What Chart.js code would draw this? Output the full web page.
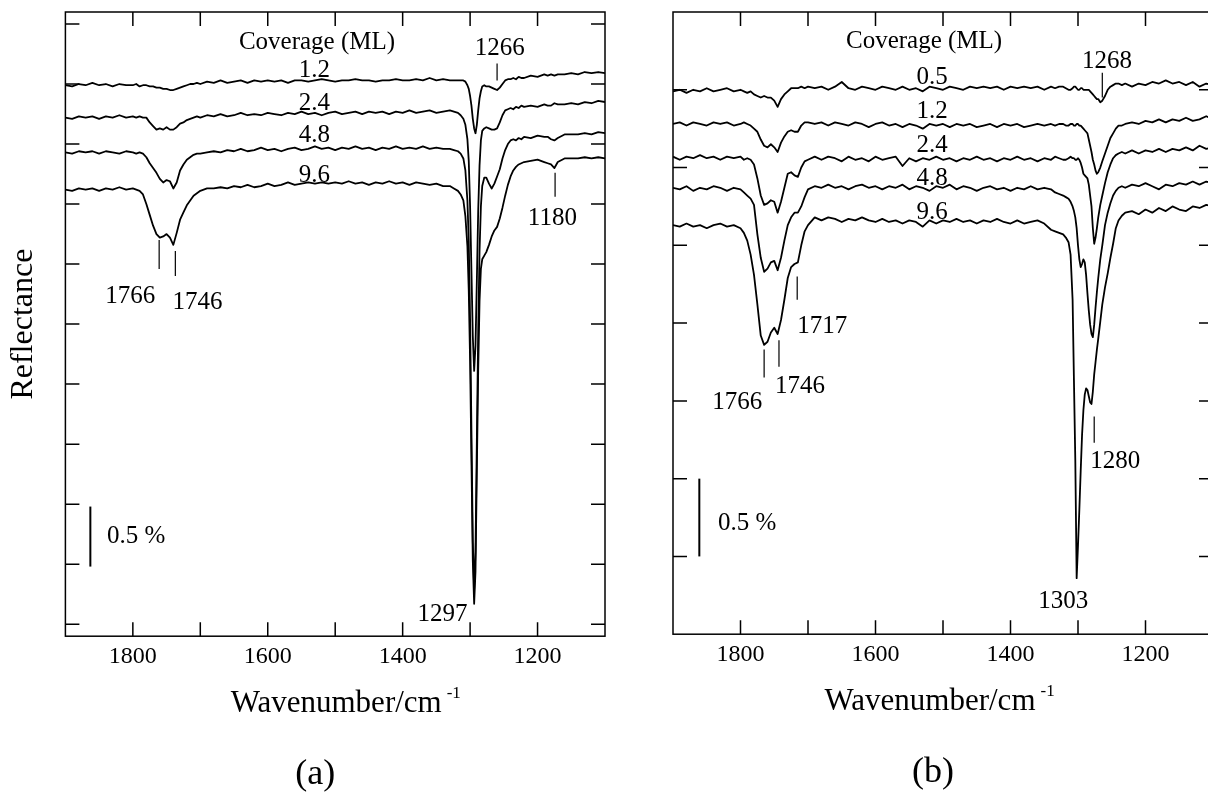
<!DOCTYPE html>
<html>
<head>
<meta charset="utf-8">
<script src="https://cdn.jsdelivr.net/npm/chart.js@4.4.1/dist/chart.umd.min.js"></script>
<style>
  html, body { margin: 0; padding: 0; background: #fff; width: 1208px; height: 793px; overflow: hidden; }
  canvas { position: absolute; top: 0; }
  #panelA { left: 0; }
  #panelB { left: 640px; }
</style>
</head>
<body>
<canvas id="panelA" width="640" height="793"></canvas>
<canvas id="panelB" width="600" height="793"></canvas>
<script>
// wavenumber grids (cm-1), finer around the sharp bands
const wavenumberA = [1900,1890,1880,1870,1860,1850,1840,1830,1820,1810,1800,
  1795,1790,1785,1780,1775,1770,1765,1760,1755,1750,1745,1740,1735,1730,1725,1720,1715,1710,1705,1700,
  1690,1680,1670,1660,1650,1640,1630,1620,1610,1600,1590,1580,1570,1560,1550,1540,1530,1520,1510,1500,
  1490,1480,1470,1460,1450,1440,1430,1420,1410,1400,1390,1380,1370,1360,1350,1340,1330,
  1324,1318,1314,1310,1307,1304,
  1302,1300,1298,1296,1294,1292,1290,1288,1286,1284,1282,
  1279,1276,
  1272,1268,1264,1260,1256,1252,1248,1244,1240,1236,1232,1228,1224,1220,
  1210,1200,1190,1185,1180,1175,1170,1160,1150,1140,1130,1120,1110,1100];

// panel (a): reflectance traces (%, stacked as drawn)
const cov12A = [4.49,4.48,4.50,4.49,4.51,4.49,4.50,4.48,4.50,4.49,4.49,
  4.50,4.48,4.49,4.49,4.48,4.48,4.47,4.47,4.46,4.46,4.45,4.45,4.46,4.47,4.48,4.49,4.50,4.50,4.51,4.50,
  4.52,4.51,4.53,4.51,4.52,4.53,4.51,4.53,4.52,4.53,4.52,4.53,4.51,4.53,4.53,4.52,4.53,4.54,4.53,4.52,
  4.53,4.53,4.54,4.53,4.53,4.52,4.53,4.53,4.54,4.53,4.53,4.54,4.53,4.55,4.53,4.54,4.53,
  4.53,4.53,4.53,4.53,4.52,4.49,
  4.46,4.40,4.32,4.21,4.13,4.09,4.16,4.28,4.38,4.44,4.48,
  4.49,4.48,
  4.48,4.47,4.46,4.45,4.47,4.50,4.53,4.54,4.54,4.55,4.54,4.56,4.55,4.55,
  4.57,4.56,4.58,4.57,4.58,4.57,4.58,4.58,4.59,4.58,4.60,4.59,4.60,4.59];
const cov24A = [4.22,4.21,4.23,4.22,4.23,4.21,4.23,4.22,4.24,4.22,4.23,
  4.22,4.23,4.22,4.22,4.18,4.15,4.12,4.13,4.12,4.14,4.12,4.12,4.14,4.17,4.18,4.20,4.21,4.22,4.23,4.22,
  4.24,4.23,4.25,4.23,4.24,4.26,4.24,4.25,4.24,4.26,4.25,4.24,4.26,4.25,4.27,4.25,4.26,4.24,4.26,4.27,
  4.25,4.26,4.27,4.25,4.27,4.26,4.27,4.25,4.27,4.26,4.28,4.26,4.27,4.28,4.26,4.27,4.28,
  4.27,4.26,4.24,4.21,4.16,4.04,
  3.86,3.48,2.94,2.40,2.11,2.32,2.86,3.44,3.82,4.03,4.11,
  4.13,4.14,
  4.13,4.12,4.12,4.13,4.18,4.24,4.28,4.29,4.30,4.29,4.31,4.30,4.32,4.31,
  4.32,4.31,4.33,4.32,4.32,4.34,4.33,4.33,4.34,4.33,4.35,4.34,4.36,4.35];
const cov48A = [3.93,3.92,3.94,3.93,3.94,3.92,3.94,3.93,3.92,3.94,3.93,
  3.92,3.93,3.92,3.89,3.84,3.80,3.76,3.71,3.68,3.70,3.69,3.63,3.68,3.78,3.83,3.87,3.89,3.91,3.92,3.92,
  3.93,3.94,3.93,3.95,3.94,3.96,3.94,3.95,3.97,3.95,3.96,3.94,3.96,3.97,3.95,3.96,3.98,3.96,3.97,3.95,
  3.97,3.96,3.98,3.96,3.97,3.95,3.97,3.96,3.98,3.96,3.97,3.96,3.98,3.96,3.97,3.96,3.96,
  3.95,3.94,3.92,3.88,3.78,3.53,
  3.19,2.53,1.61,0.69,0.29,0.61,1.53,2.44,3.11,3.48,3.65,
  3.72,3.72,
  3.67,3.63,3.67,3.73,3.79,3.88,3.95,4.00,4.03,4.04,4.03,4.05,4.04,4.06,
  4.05,4.07,4.06,4.06,4.04,4.03,4.05,4.08,4.08,4.08,4.09,4.08,4.10,4.09];
const cov96A = [3.62,3.61,3.63,3.62,3.63,3.61,3.63,3.62,3.64,3.62,3.63,
  3.62,3.61,3.58,3.50,3.41,3.32,3.25,3.22,3.23,3.25,3.22,3.16,3.26,3.37,3.43,3.49,3.53,3.57,3.59,3.61,
  3.63,3.63,3.64,3.63,3.65,3.64,3.66,3.64,3.65,3.67,3.65,3.66,3.68,3.66,3.67,3.68,3.67,3.68,3.67,3.68,
  3.67,3.69,3.67,3.68,3.66,3.68,3.67,3.69,3.67,3.68,3.66,3.68,3.67,3.66,3.67,3.65,3.65,
  3.63,3.61,3.58,3.53,3.40,3.15,
  2.78,2.19,1.36,0.53,0.17,0.44,1.28,2.11,2.69,2.96,3.04,
  3.07,3.10,
  3.16,3.23,3.28,3.31,3.38,3.47,3.57,3.66,3.73,3.78,3.81,3.83,3.84,3.85,
  3.86,3.87,3.85,3.84,3.83,3.80,3.85,3.88,3.88,3.88,3.89,3.88,3.89,3.88];

const wavenumberB = [1900,1890,1880,1870,1860,1850,1840,1830,1820,1810,1800,
  1795,1790,1785,1780,1775,1770,1765,1760,1755,1750,1745,1740,1735,1730,1725,1720,1715,1710,1705,1700,
  1690,1680,1670,1660,1650,1640,1630,1620,1610,1600,1590,1580,1570,1560,1550,1540,1530,1520,1510,1500,
  1490,1480,1470,1460,1450,1440,1430,1420,1410,1400,1390,1380,1370,1360,1350,1340,
  1334,1328,1322,1318,1314,1311,1308,1306,1304,1302,1300,1298,1296,1294,1292,1290,1288,1286,
  1284,1282,1280,1278,1276,1274,1272,1270,1267,1264,1260,1256,1252,1248,1244,1240,1235,1230,
  1220,1210,1200,1190,1180,1170,1160,1150,1140,1130,1120,1110,1100];

// panel (b)
const cov05B = [3.49,3.50,3.48,3.50,3.49,3.51,3.49,3.50,3.51,3.49,3.50,
  3.49,3.48,3.49,3.47,3.46,3.45,3.46,3.45,3.45,3.43,3.39,3.44,3.47,3.49,3.51,3.51,3.51,3.52,3.51,3.52,
  3.51,3.52,3.50,3.52,3.55,3.51,3.50,3.52,3.51,3.50,3.52,3.51,3.50,3.52,3.50,3.51,3.49,3.52,3.51,3.50,
  3.52,3.51,3.50,3.52,3.51,3.52,3.51,3.52,3.50,3.52,3.51,3.52,3.51,3.52,3.50,3.52,
  3.51,3.52,3.52,3.51,3.50,3.50,3.51,3.52,3.52,3.51,3.50,3.50,3.51,3.51,3.50,3.50,3.50,3.50,
  3.50,3.49,3.48,3.47,3.46,3.45,3.44,3.44,3.42,3.43,3.46,3.50,3.52,3.53,3.54,3.54,3.53,3.54,
  3.52,3.54,3.53,3.55,3.54,3.56,3.54,3.55,3.53,3.55,3.52,3.54,3.53];
const cov12B = [3.28,3.29,3.27,3.29,3.28,3.27,3.29,3.28,3.29,3.27,3.28,
  3.29,3.28,3.27,3.25,3.23,3.18,3.14,3.13,3.15,3.13,3.10,3.16,3.20,3.23,3.24,3.23,3.23,3.27,3.29,3.29,
  3.28,3.29,3.27,3.29,3.28,3.27,3.29,3.28,3.26,3.28,3.29,3.27,3.28,3.26,3.28,3.27,3.25,3.28,3.27,3.28,
  3.26,3.28,3.27,3.28,3.26,3.27,3.28,3.26,3.28,3.27,3.28,3.26,3.27,3.28,3.27,3.28,
  3.27,3.28,3.28,3.27,3.27,3.28,3.28,3.27,3.27,3.28,3.28,3.27,3.27,3.26,3.25,3.24,3.23,3.22,
  3.18,3.14,3.10,3.05,3.02,2.98,2.96,2.97,3.00,3.04,3.09,3.14,3.19,3.22,3.25,3.27,3.27,3.28,
  3.29,3.28,3.30,3.29,3.31,3.29,3.31,3.30,3.32,3.30,3.31,3.33,3.31];
const cov24B = [3.07,3.05,3.07,3.06,3.08,3.06,3.07,3.05,3.07,3.06,3.07,
  3.05,3.06,3.05,3.02,2.93,2.82,2.76,2.77,2.79,2.78,2.71,2.78,2.87,2.96,2.97,2.95,2.94,3.00,3.04,3.05,
  3.07,3.05,3.07,3.06,3.04,3.07,3.05,3.06,3.04,3.07,3.05,3.06,3.07,3.01,3.06,3.04,3.06,3.05,3.07,3.05,
  3.06,3.04,3.06,3.05,3.07,3.05,3.06,3.04,3.06,3.05,3.07,3.05,3.06,3.04,3.06,3.05,
  3.07,3.06,3.05,3.05,3.06,3.07,3.06,3.06,3.05,3.05,3.06,3.05,3.03,3.00,2.96,2.95,2.94,2.93,
  2.89,2.82,2.75,2.61,2.51,2.55,2.61,2.68,2.76,2.82,2.90,2.97,3.02,3.06,3.08,3.09,3.10,3.09,
  3.11,3.09,3.11,3.10,3.12,3.10,3.12,3.11,3.13,3.11,3.14,3.12,3.13];
const cov48B = [2.87,2.86,2.88,2.85,2.87,2.86,2.88,2.87,2.85,2.87,2.86,
  2.84,2.82,2.80,2.76,2.57,2.42,2.33,2.35,2.39,2.40,2.34,2.42,2.53,2.63,2.68,2.71,2.71,2.75,2.81,2.86,
  2.88,2.87,2.89,2.87,2.88,2.86,2.88,2.89,2.87,2.88,2.86,2.88,2.87,2.89,2.86,2.88,2.87,2.85,2.88,2.87,
  2.89,2.86,2.88,2.87,2.85,2.87,2.88,2.86,2.87,2.85,2.87,2.86,2.88,2.86,2.87,2.86,
  2.84,2.83,2.82,2.81,2.80,2.78,2.75,2.72,2.68,2.61,2.50,2.41,2.36,2.38,2.41,2.39,2.31,2.19,
  2.08,1.99,1.93,1.91,1.99,2.10,2.20,2.29,2.41,2.50,2.63,2.71,2.77,2.82,2.85,2.87,2.88,2.87,
  2.89,2.88,2.90,2.88,2.86,2.89,2.88,2.90,2.89,2.91,2.89,2.91,2.90];
const cov96B = [2.63,2.62,2.64,2.62,2.63,2.61,2.63,2.64,2.62,2.63,2.61,
  2.58,2.53,2.44,2.31,2.12,1.92,1.86,1.88,1.94,1.97,1.93,2.02,2.15,2.29,2.36,2.38,2.39,2.50,2.59,2.63,
  2.68,2.66,2.68,2.67,2.65,2.67,2.66,2.68,2.66,2.65,2.67,2.65,2.66,2.64,2.66,2.65,2.62,2.66,2.64,2.66,
  2.65,2.67,2.65,2.66,2.64,2.66,2.65,2.67,2.65,2.64,2.66,2.64,2.65,2.66,2.64,2.60,
  2.59,2.58,2.57,2.55,2.52,2.44,2.15,1.63,1.12,0.36,0.57,0.80,1.05,1.28,1.44,1.54,1.58,1.57,
  1.53,1.49,1.48,1.56,1.67,1.75,1.83,1.90,2.01,2.12,2.23,2.32,2.42,2.51,2.61,2.66,2.69,2.71,
  2.72,2.70,2.73,2.71,2.74,2.72,2.75,2.73,2.72,2.75,2.74,2.76,2.75];

// axes
const xTicks = [1800, 1700, 1600, 1500, 1400, 1300, 1200];
const xTickLabels = ['1800', '', '1600', '', '1400', '', '1200'];
const yTicksA = [0, 0.5, 1, 1.5, 2, 2.5, 3, 3.5, 4, 4.5, 5];
const yTicksB = [0.5, 1, 1.5, 2, 2.5, 3, 3.5];

// labels written on the plots (wavenumber, % position)
const notesA = [
  { text: 'Coverage (ML)', x: 1527, y: 4.85 },
  { text: '1.2', x: 1531, y: 4.61 },
  { text: '2.4', x: 1531, y: 4.34 },
  { text: '4.8', x: 1531, y: 4.07 },
  { text: '9.6', x: 1531, y: 3.74 },
  { text: '1266', x: 1256, y: 4.80 },
  { text: '1180', x: 1178, y: 3.38 },
  { text: '1766', x: 1804, y: 2.73 },
  { text: '1746', x: 1704, y: 2.68 },
  { text: '1297', x: 1341, y: 0.08 },
  { text: '0.5 %', x: 1795, y: 0.73 }
];
const marksA = [
  { x: 1260, from: 4.67, to: 4.53 },
  { x: 1174, from: 3.76, to: 3.56 },
  { x: 1761, from: 3.20, to: 2.96 },
  { x: 1737, from: 3.11, to: 2.90 }
];
const notesB = [
  { text: 'Coverage (ML)', x: 1528, y: 3.81 },
  { text: '0.5', x: 1516, y: 3.58 },
  { text: '1.2', x: 1516, y: 3.36 },
  { text: '2.4', x: 1516, y: 3.14 },
  { text: '4.8', x: 1516, y: 2.93 },
  { text: '9.6', x: 1516, y: 2.71 },
  { text: '1268', x: 1257, y: 3.68 },
  { text: '1717', x: 1679, y: 1.98 },
  { text: '1766', x: 1805, y: 1.49 },
  { text: '1746', x: 1712, y: 1.59 },
  { text: '1280', x: 1245, y: 1.11 },
  { text: '1303', x: 1322, y: 0.21 },
  { text: '0.5 %', x: 1790, y: 0.71 }
];
const marksB = [
  { x: 1264, from: 3.61, to: 3.45 },
  { x: 1716, from: 2.30, to: 2.15 },
  { x: 1765, from: 1.83, to: 1.65 },
  { x: 1743, from: 1.89, to: 1.72 },
  { x: 1276, from: 1.40, to: 1.23 }
];

const serif = "'Liberation Serif', 'Times New Roman', serif";

// frame with inward ticks on all sides, peak labels, scale bar, x title
const decor = {
  id: 'decor',
  afterDraw(chart, args, o) {
    const { ctx, chartArea: a, scales: { x, y } } = chart;
    const t = 14;
    ctx.save();
    ctx.strokeStyle = '#000';
    ctx.lineWidth = 1.5;
    ctx.strokeRect(a.left, a.top, a.right - a.left, a.bottom - a.top);
    ctx.beginPath();
    x.ticks.forEach(tk => {
      const px = x.getPixelForValue(tk.value);
      ctx.moveTo(px, a.bottom); ctx.lineTo(px, a.bottom - t);
      ctx.moveTo(px, a.top); ctx.lineTo(px, a.top + t);
    });
    y.ticks.forEach(tk => {
      const py = y.getPixelForValue(tk.value);
      ctx.moveTo(a.left, py); ctx.lineTo(a.left + t, py);
      ctx.moveTo(a.right, py); ctx.lineTo(a.right - t, py);
    });
    ctx.stroke();

    ctx.lineWidth = 1.2;
    ctx.beginPath();
    o.marks.forEach(m => {
      const px = x.getPixelForValue(m.x);
      ctx.moveTo(px, y.getPixelForValue(m.from));
      ctx.lineTo(px, y.getPixelForValue(m.to));
    });
    ctx.stroke();

    // 0.5 % scale bar
    ctx.lineWidth = 2;
    ctx.beginPath();
    const bx = x.getPixelForValue(o.bar.x);
    ctx.moveTo(bx, y.getPixelForValue(o.bar.y));
    ctx.lineTo(bx, y.getPixelForValue(o.bar.y + 0.5));
    ctx.stroke();

    ctx.fillStyle = '#000';
    ctx.textAlign = 'center';
    ctx.textBaseline = 'middle';
    ctx.font = '25px ' + serif;
    o.notes.forEach(n => ctx.fillText(n.text, x.getPixelForValue(n.x), y.getPixelForValue(n.y)));

    const cx = (a.left + a.right) / 2 + o.titleShift;
    ctx.textBaseline = 'alphabetic';
    ctx.font = '31px ' + serif;
    ctx.fillText('Wavenumber/cm', cx, a.bottom + 76);
    const w = ctx.measureText('Wavenumber/cm').width;
    ctx.font = '17px ' + serif;
    ctx.textAlign = 'left';
    ctx.fillText('-1', cx + w / 2 + 5, a.bottom + 62);

    ctx.textAlign = 'center';
    ctx.textBaseline = 'middle';
    ctx.font = '36px ' + serif;
    ctx.fillText(o.letter, (a.left + a.right) / 2 + o.letterShift, a.bottom + 138);
    ctx.restore();
  }
};

function spectrumChart(id, xs, series, cfg) {
  return new Chart(document.getElementById(id), {
    type: 'line',
    data: {
      datasets: series.map(ys => ({
        data: xs.map((x, i) => ({ x: x, y: ys[i] })),
        borderColor: '#000',
        borderWidth: 1.8,
        borderJoinStyle: 'round',
        pointRadius: 0,
        tension: 0,
        fill: false
      }))
    },
    options: {
      responsive: false,
      animation: false,
      events: [],
      layout: { padding: cfg.padding },
      plugins: {
        legend: { display: false },
        tooltip: { enabled: false },
        decor: cfg.decor
      },
      scales: {
        x: {
          type: 'linear',
          reverse: true,
          min: 1100,
          max: 1900,
          afterBuildTicks: s => { s.ticks = xTicks.map(v => ({ value: v })); },
          grid: { display: false, drawTicks: false },
          border: { display: false },
          ticks: {
            color: '#000',
            font: { family: serif, size: 24 },
            padding: 6,
            maxRotation: 0,
            autoSkip: false,
            callback: (v, i) => xTickLabels[i]
          }
        },
        y: {
          min: cfg.yMin,
          max: cfg.yMax,
          afterBuildTicks: s => { s.ticks = cfg.yTicks.map(v => ({ value: v })); },
          grid: { display: false, drawTicks: false },
          border: { display: false },
          ticks: { display: false },
          title: cfg.yTitle
        }
      }
    },
    plugins: [decor]
  });
}

spectrumChart('panelA', wavenumberA, [cov12A, cov24A, cov48A, cov96A], {
  padding: { left: 4, right: 35, top: 12, bottom: 116 },
  yMin: -0.1, yMax: 5.1, yTicks: yTicksA,
  yTitle: {
    display: true, text: 'Reflectance', color: '#000',
    font: { family: serif, size: 32 }, padding: { top: 0, bottom: 23 }
  },
  decor: { notes: notesA, marks: marksA, bar: { x: 1863, y: 0.48 }, titleShift: 1, letter: '(a)', letterShift: -20 }
});

spectrumChart('panelB', wavenumberB, [cov05B, cov12B, cov24B, cov48B, cov96B], {
  padding: { left: 33, right: 27, top: 12, bottom: 118 },
  yMin: 0, yMax: 4, yTicks: yTicksB,
  yTitle: { display: false },
  decor: { notes: notesB, marks: marksB, bar: { x: 1861, y: 0.5 }, titleShift: -13, letter: '(b)', letterShift: -10 }
});
</script>
</body>
</html>
